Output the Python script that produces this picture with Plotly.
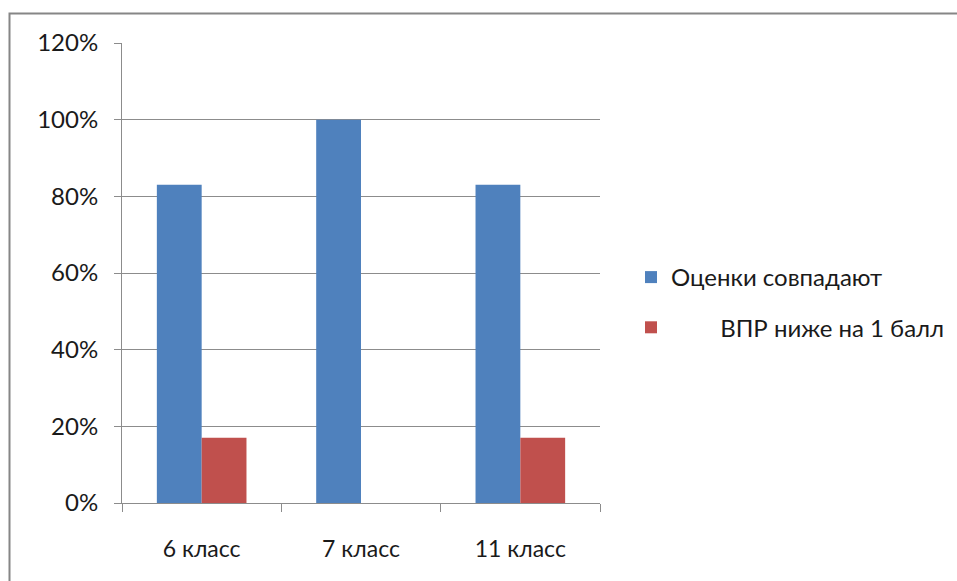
import plotly.graph_objects as go

categories = ["6 класс", "7 класс", "11 класс"]
series_names = ["Оценки совпадают", "\u00a0" * 8 + "ВПР ниже на 1 балл"]
match_values = [0.83, 1.00, 0.83]
lower_values = [0.17, 0.0, 0.17]
colors = ["#4f81bd", "#c0504d"]

FONT = "Lato, Carlito, Calibri, sans-serif"
W, H = 957, 581
L, R, T, B = 122, 600, 43, 503

fig = go.Figure()
for i, (name, vals) in enumerate(zip(series_names, [match_values, lower_values])):
    fig.add_trace(go.Bar(x=categories, y=vals, name=name, marker_color=colors[i],
                         marker_line_width=0, legendgroup=str(i)))

pw, ph = R - L, B - T
def px(x):
    return (x - L) / pw
def py(y):
    return (B - y) / ph

fig.add_shape(type="rect", xref="paper", yref="paper",
              x0=px(9.5), x1=px(975), y0=py(600), y1=py(13.5),
              line=dict(color="#868686", width=2), fillcolor="rgba(0,0,0,0)", layer="below")

fig.update_layout(
    width=W, height=H,
    margin=dict(l=L, r=W - R, t=T, b=H - B, pad=0),
    paper_bgcolor="white", plot_bgcolor="white",
    barmode="group", bargap=0.4375, bargroupgap=0,
    font=dict(family=FONT, size=24, color="#1a1a1a"),
    showlegend=True,
    legend=dict(xref="container", yref="container", x=631 / W, y=1 - 302.5 / H,
                xanchor="left", yanchor="middle", traceorder="grouped",
                tracegroupgap=16, font=dict(family=FONT, size=24, color="#1a1a1a"),
                bgcolor="rgba(0,0,0,0)"),
    xaxis=dict(type="category", tickson="boundaries", ticks="outside", ticklen=8,
               tickcolor="#8c8c8c", showline=True, linecolor="#8c8c8c", linewidth=1,
               showgrid=False, ticklabelstandoff=25, tickfont=dict(size=23)),
    yaxis=dict(range=[0, 1.2], dtick=0.2, tickformat=".0%", ticks="outside", ticklen=7,
               tickcolor="#8c8c8c", showline=True, linecolor="#8c8c8c", linewidth=1,
               showgrid=True, gridcolor="#8c8c8c", gridwidth=1, zeroline=False,
               ticklabelstandoff=11, tickfont=dict(size=24)),
)

fig.write_html("out.html", config={"displayModeBar": False},
               post_script="document.body.style.margin='0';document.body.style.overflow='hidden';")
